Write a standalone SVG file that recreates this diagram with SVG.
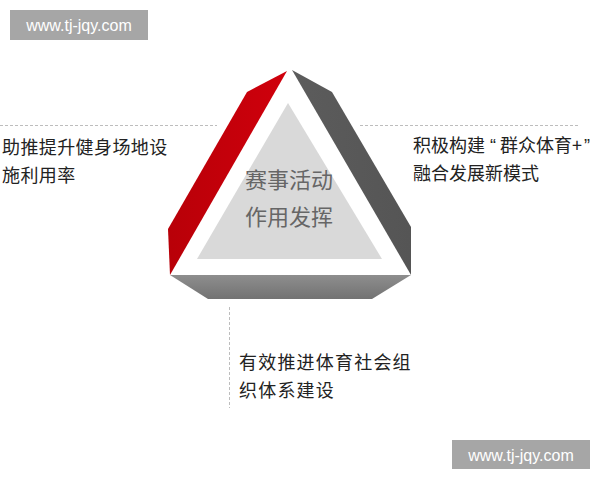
<svg xmlns="http://www.w3.org/2000/svg" width="600" height="480" viewBox="0 0 600 480">
  <defs>
    <linearGradient id="gRed" x1="0" y1="0" x2="1" y2="0">
      <stop offset="0" stop-color="#b80008"/>
      <stop offset="1" stop-color="#d0000c"/>
    </linearGradient>
    <linearGradient id="gDark" x1="0" y1="0" x2="1" y2="0">
      <stop offset="0" stop-color="#5c5c5c"/>
      <stop offset="1" stop-color="#555555"/>
    </linearGradient>
    <linearGradient id="gBottom" x1="0" y1="0" x2="0" y2="1">
      <stop offset="0" stop-color="#8e8e8e"/>
      <stop offset="1" stop-color="#727272"/>
    </linearGradient>
  </defs>
  <style>
    .lbl { font-family: "Noto Sans CJK SC", "Noto Sans", sans-serif; font-size: 18px; fill: #222222; }
    .q { font-family: "Liberation Sans", Arial, "Noto Sans CJK SC", sans-serif; }
    .ctr { font-family: "Noto Sans CJK SC", "Noto Sans", sans-serif; font-size: 22px; fill: #666666; text-anchor: middle; }
    .wm { fill: #a6a6a6; }
    .wmt { font-family: "Liberation Sans", Arial, sans-serif; font-size: 16px; fill: #ffffff; text-anchor: middle; }
    .dash { stroke: #bdbdbd; stroke-width: 1; stroke-dasharray: 3 2; fill: none; }
  </style>
  <rect width="600" height="480" fill="#ffffff"/>

  <g id="watermark-top">
    <rect class="wm" x="10" y="10" width="138" height="30"/>
    <text class="wmt" x="79" y="31">www.tj-jqy.com</text>
  </g>
  <g id="watermark-bottom">
    <rect class="wm" x="452" y="440" width="138" height="29"/>
    <text class="wmt" x="521" y="460.5">www.tj-jqy.com</text>
  </g>

  <g id="connectors">
    <line class="dash" x1="0" y1="125.5" x2="217" y2="125.5"/>
    <line class="dash" x1="360" y1="125.5" x2="580" y2="125.5"/>
    <line class="dash" x1="229.5" y1="307" x2="229.5" y2="408"/>
  </g>

  <g id="triangle">
    <polygon points="287,71 247,92 168,229 170,275" fill="url(#gRed)"/>
    <polygon points="292,70 332,92 411,227 411,275" fill="url(#gDark)"/>
    <polygon points="170,275 411,275 372,299 208,299" fill="url(#gBottom)"/>
    <polygon points="288,103 197,259 382,259" fill="#d9d9d9"/>
    <text class="ctr" x="289" y="188">赛事活动</text>
    <text class="ctr" x="289" y="225">作用发挥</text>
  </g>

  <g id="node-left">
    <text class="lbl" x="2" y="154" letter-spacing="0.4">助推提升健身场地设</text>
    <text class="lbl" x="2" y="182" letter-spacing="0.4">施利用率</text>
  </g>
  <g id="node-right">
    <text class="lbl" x="413" y="152">积极构建<tspan class="q" x="490">“</tspan><tspan x="500">群众体育+</tspan><tspan class="q" x="584">”</tspan></text>
    <text class="lbl" x="413" y="180">融合发展新模式</text>
  </g>
  <g id="node-bottom">
    <text class="lbl" x="239" y="369" letter-spacing="1.2">有效推进体育社会组</text>
    <text class="lbl" x="239" y="397" letter-spacing="1.2">织体系建设</text>
  </g>
</svg>
